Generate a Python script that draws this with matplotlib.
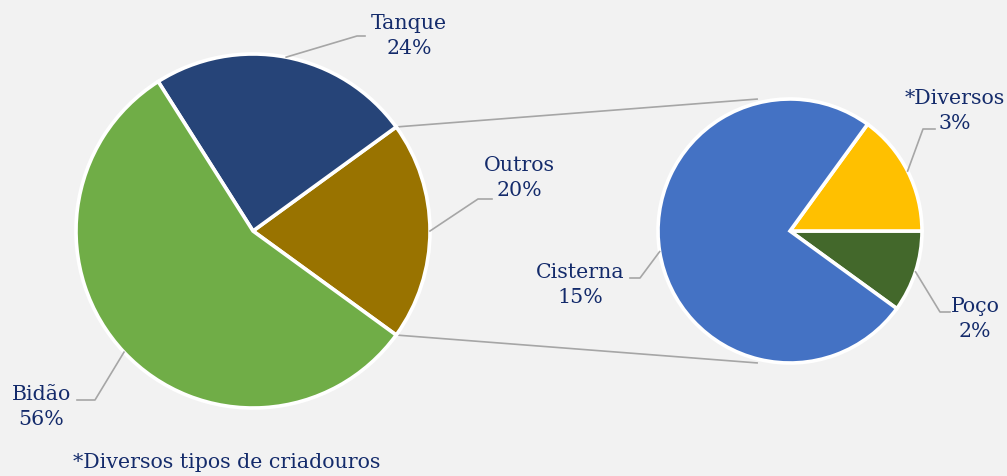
import numpy as np
import matplotlib.pyplot as plt

# main pie
main_labels = ["Outros", "Tanque", "Bidão"]
main_values = [20, 24, 56]
main_colors = ["#997300", "#264478", "#70AD47"]

# breakdown of "Outros"
sub_labels = ["Poço", "*Diversos", "Cisterna"]
sub_values = [2, 3, 15]
sub_colors = ["#43682B", "#FFC000", "#4472C4"]

footnote = "*Diversos tipos de criadouros"

W, H = 1007, 477
txt_color = "#142B6B"
line_color = "#A6A6A6"
plt.rcParams['font.family'] = ['DejaVu Serif']
FS = 14.8

fig = plt.figure(figsize=(W / 100, H / 100), dpi=100)
fig.patch.set_facecolor("#F2F2F2")
ax = fig.add_axes([0, 0, 1, 1])
ax.set_facecolor("#F2F2F2")

c1, r1 = (253, H - 232), 177
c2, r2 = (790, H - 232), 132

start1 = -36
start2 = -36
wp = dict(edgecolor="white", linewidth=2.6)
ax.pie(main_values, colors=main_colors, startangle=start1, counterclock=True,
       center=c1, radius=r1, wedgeprops=wp)
ax.pie(sub_values, colors=sub_colors, startangle=start2, counterclock=True,
       center=c2, radius=r2, wedgeprops=wp)

# connector lines between the two pies
for a1, a2 in [(36, 104), (-36, -104)]:
    p1 = (c1[0] + r1 * np.cos(np.radians(a1)), c1[1] + r1 * np.sin(np.radians(a1)))
    p2 = (c2[0] + r2 * 1.03 * np.cos(np.radians(a2)), c2[1] + r2 * 1.03 * np.sin(np.radians(a2)))
    ax.plot([p1[0], p2[0]], [p1[1], p2[1]], color=line_color, lw=1.2, zorder=0)


def mid_angles(values, start):
    v = np.array(values, dtype=float)
    cum = np.cumsum(v) / v.sum() * 360
    return start + cum - v / v.sum() * 180


# label layout: (elbow x, elbow y, end x, text x, text y)
main_pos = {
    "Outros": (478, 200, 492, 519, 178),
    "Tanque": (357, 37, 365, 409, 36),
    "Bidão": (95, 401, 77, 41, 407),
}
sub_pos = {
    "Poço": (940, 313, 950, 975, 319),
    "*Diversos": (923, 130, 935, 955, 111),
    "Cisterna": (640, 279, 630, 580, 285),
}


def draw_labels(labels, values, start, c, r, pos):
    for lab, val, ang in zip(labels, values, mid_angles(values, start)):
        ex, ey, hx, tx, ty = pos[lab]
        sx = c[0] + r * np.cos(np.radians(ang))
        sy = c[1] + r * np.sin(np.radians(ang))
        ax.plot([sx, ex, hx], [sy, H - ey, H - ey], color=line_color, lw=1.2)
        ax.text(tx, H - ty, f"{lab}\n{val}%", ha="center", va="center",
                fontsize=FS, color=txt_color, linespacing=1.45)


draw_labels(main_labels, main_values, start1, c1, r1, main_pos)
draw_labels(sub_labels, sub_values, start2, c2, r2, sub_pos)

ax.text(73, H - 463, footnote, ha="left", va="center", fontsize=FS, color=txt_color)

ax.set_xlim(0, W)
ax.set_ylim(0, H)
ax.set_aspect("equal")
ax.axis("off")

fig.savefig("out.png", dpi=100, facecolor=fig.get_facecolor())
